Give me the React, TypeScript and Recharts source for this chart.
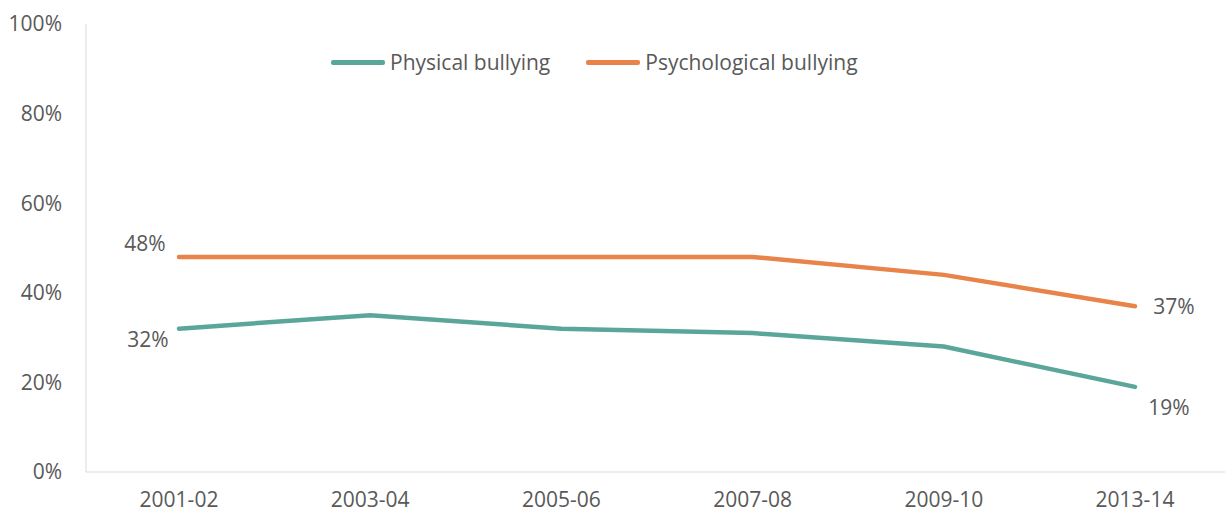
import { LineChart, Line, XAxis, YAxis } from "recharts";

const years = ["2001-02", "2003-04", "2005-06", "2007-08", "2009-10", "2013-14"];
const physical = [32, 35, 32, 31, 28, 19];
const psychological = [48, 48, 48, 48, 44, 37];
const yTicks = [0, 20, 40, 60, 80, 100];

const data = years.map((year, i) => ({
  year,
  physical: physical[i],
  psychological: psychological[i],
}));

const series = [
  { key: "physical", name: "Physical bullying", color: "#5ba69a" },
  { key: "psychological", name: "Psychological bullying", color: "#e8834a" },
];

const FONT = "'Open Sans', sans-serif";
const TEXT = "#595959";
const FS = 21;

function makeLabel(first: [number, number], last: [number, number]) {
  return (props: any) => {
    const { x, y, index, value } = props;
    let off: [number, number] | null = null;
    if (index === 0) off = first;
    else if (index === years.length - 1) off = last;
    if (!off) return null;
    return (
      <text
        key={index}
        x={x + off[0]}
        y={y + off[1]}
        textAnchor="middle"
        dominantBaseline="central"
        fill={TEXT}
        fontSize={FS}
        fontFamily={FONT}
      >
        {value}%
      </text>
    );
  };
}

export default function App() {
  return (
    <div style={{ position: "absolute", left: 0, top: 0, background: "#fff" }}>
      <div
        style={{
          position: "absolute",
          left: 331,
          top: 48,
          display: "flex",
          alignItems: "center",
          fontFamily: FONT,
          fontSize: FS,
          color: TEXT,
          zIndex: 1,
        }}
      >
        {series.map((s) => (
          <div key={s.key} style={{ display: "flex", alignItems: "center", marginRight: 36 }}>
            <div style={{ width: 54, height: 5, background: s.color, borderRadius: 2, marginRight: 5 }} />
            <span>{s.name}</span>
          </div>
        ))}
      </div>
      <LineChart width={1225} height={515} data={data} margin={{ top: 24, right: 0, left: 0, bottom: 0 }}>
        <XAxis
          dataKey="year"
          stroke="#d9d9d9"
          tickLine={false}
          tickSize={0}
          tickMargin={20}
          height={43}
          padding={{ left: 93, right: 90 }}
          tick={{ fill: TEXT, fontSize: FS, fontFamily: FONT }}
        />
        <YAxis
          domain={[0, 100]}
          ticks={yTicks}
          tickFormatter={(v: number) => `${v}%`}
          stroke="#d9d9d9"
          tickLine={false}
          tickSize={0}
          tickMargin={24}
          width={86}
          tick={{ fill: TEXT, fontSize: FS, fontFamily: FONT }}
        />
        <Line
          name={series[0].name}
          dataKey="physical"
          stroke={series[0].color}
          strokeWidth={4.5}
          dot={false}
          strokeLinecap="round"
          isAnimationActive={false}
          label={makeLabel([-31, 10], [34, 20])}
        />
        <Line
          name={series[1].name}
          dataKey="psychological"
          stroke={series[1].color}
          strokeWidth={4.5}
          dot={false}
          strokeLinecap="round"
          isAnimationActive={false}
          label={makeLabel([-34, -14], [39, 0])}
        />
      </LineChart>
    </div>
  );
}
